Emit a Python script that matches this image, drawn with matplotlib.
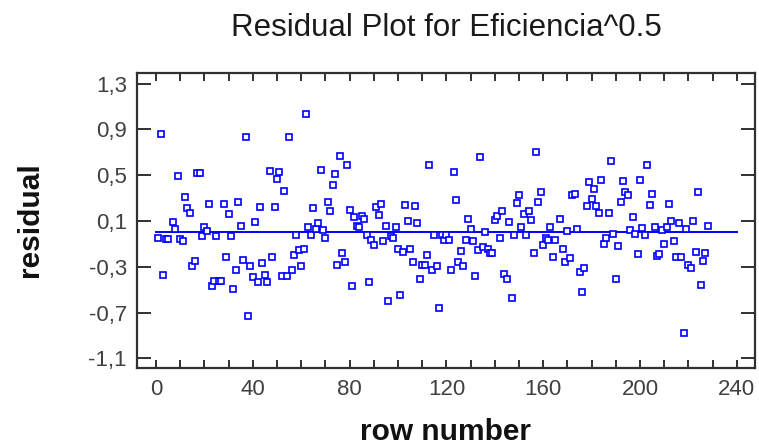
import matplotlib.pyplot as plt
import matplotlib.ticker as mticker

plt.rcParams['font.family'] = ['Liberation Sans', 'DejaVu Sans']

# row numbers and residuals
row = [1, 2, 3, 4, 5, 7, 8, 9, 10, 11, 12, 13, 14, 15, 16, 17, 18, 19, 20, 21,
       22, 23, 24, 25, 26, 27, 28, 29, 30, 31, 32, 33, 34, 35, 36, 37, 38, 39, 40, 41,
       42, 43, 44, 45, 46, 47, 48, 49, 50, 51, 52, 53, 54, 55, 56, 57, 58, 59, 60, 61,
       62, 63, 64, 65, 66, 67, 68, 69, 70, 71, 72, 73, 74, 75, 76, 77, 78, 79, 80, 81,
       82, 83, 84, 85, 86, 87, 88, 89, 90, 91, 92, 93, 94, 95, 96, 97, 98, 99, 100, 101,
       102, 103, 104, 105, 106, 107, 108, 109, 110, 111, 112, 113, 114, 115, 116, 117, 118, 119, 120, 121,
       122, 123, 124, 125, 126, 127, 128, 129, 130, 131, 132, 133, 134, 135, 136, 137, 138, 139, 140, 141,
       142, 143, 144, 145, 146, 147, 148, 149, 150, 151, 152, 153, 154, 155, 156, 157, 158, 159, 160, 161,
       162, 163, 164, 165, 167, 168, 169, 170, 171, 172, 173, 174, 175, 176, 177, 178, 179, 180, 181, 182,
       183, 184, 185, 186, 187, 188, 189, 190, 191, 192, 193, 194, 195, 196, 197, 198, 199, 200, 201, 202,
       203, 204, 205, 206, 207, 208, 209, 210, 211, 212, 213, 214, 215, 216, 217, 218, 219, 220, 221, 222,
       223, 224, 225, 226, 227, 228]

residual = [-0.045, 0.856, -0.37, -0.06, -0.06, 0.094, 0.033, 0.49, -0.054, -0.077,
            0.31, 0.21, 0.17, -0.29, -0.246, 0.52, 0.52, -0.03, 0.05, 0.01,
            0.25, -0.47, -0.42, -0.03, -0.42, -0.42, 0.245, -0.21, 0.164, -0.03,
            -0.496, -0.33, 0.27, 0.06, -0.24, 0.83, -0.73, -0.29, -0.39, 0.09,
            -0.43, 0.22, -0.27, -0.37, -0.43, 0.54, -0.21, 0.22, 0.47, 0.53,
            -0.38, 0.36, -0.38, 0.83, -0.33, -0.2, -0.025, -0.156, -0.29, -0.147,
            1.036, 0.045, -0.025, 0.216, 0.027, 0.085, 0.545, 0.024, -0.045, 0.27,
            0.187, 0.417, 0.51, -0.28, 0.67, -0.18, -0.26, 0.585, 0.193, -0.47,
            0.138, 0.053, 0.05, 0.146, 0.117, -0.025, -0.435, -0.07, -0.11, 0.22,
            0.152, 0.245, -0.077, 0.056, -0.6, -0.03, -0.048, 0.05, -0.14, -0.55,
            -0.17, 0.237, 0.1, -0.147, -0.26, 0.228, 0.08, -0.41, -0.28, -0.287,
            -0.2, 0.59, -0.33, -0.025, -0.29, -0.66, -0.025, -0.066, -0.025, -0.066,
            -0.33, 0.53, 0.283, -0.26, -0.165, -0.29, -0.07, 0.117, 0.027, -0.077,
            -0.377, -0.153, 0.655, -0.127, 0.0, -0.147, -0.18, -0.18, 0.109, 0.144,
            -0.048, 0.19, -0.36, -0.41, 0.094, -0.57, -0.025, 0.257, 0.327, 0.05,
            0.158, -0.025, 0.19, 0.106, -0.18, 0.7, 0.27, 0.35, -0.11, -0.048,
            -0.07, 0.05, -0.217, -0.07, 0.117, -0.14, -0.26, 0.01, -0.22, 0.33,
            0.333, 0.033, -0.348, -0.52, -0.307, 0.234, 0.437, 0.29, 0.38, 0.228,
            0.17, 0.455, -0.1, -0.05, 0.173, 0.62, -0.017, -0.41, -0.118, 0.266,
            0.45, 0.356, 0.327, 0.02, 0.138, -0.015, -0.185, 0.46, 0.036, -0.025,
            0.59, 0.237, 0.335, 0.045, -0.205, -0.185, 0.024, -0.1, 0.045, 0.245,
            0.097, -0.077, -0.217, 0.085, -0.217, -0.88, 0.027, -0.284, -0.313, 0.1,
            -0.167, 0.356, -0.46, -0.25, -0.18, 0.056]

yticks = [-1.1, -0.7, -0.3, 0.1, 0.5, 0.9, 1.3]
ytick_labels = [f'{v:.1f}'.replace('.', ',') for v in yticks]

fig = plt.figure(figsize=(7.59, 4.44), dpi=100)
ax = fig.add_axes([0.180, 0.172, 0.815, 0.663])

ax.plot(row, residual, 's', ms=4.3, mfc='white', mec='#0000ff', mew=1.2, zorder=3)
ax.plot([0, 240], [0, 0], color='#0000ff', lw=1.4, zorder=2)

ax.set_xlim(-8, 247.6)
ax.set_ylim(-1.18, 1.39)

ax.xaxis.set_major_locator(mticker.MultipleLocator(40))
ax.xaxis.set_minor_locator(mticker.MultipleLocator(10))
ax.set_yticks(yticks)
ax.set_yticklabels(ytick_labels)

ax.tick_params(axis='x', which='both', direction='in', length=6, width=1.4,
               top=True, bottom=True, color='#303030')
ax.tick_params(axis='x', which='major', labelsize=16, labelcolor='#404040', pad=8)
ax.tick_params(axis='y', direction='in', length=10, width=1.4, left=True, right=True,
               color='#303030', labelsize=16, labelcolor='#404040', pad=7)

for s in ax.spines.values():
    s.set_linewidth(1.6)
    s.set_color('#303030')

fig.text(446 / 759, 1 - 36 / 444, 'Residual Plot for Eficiencia^0.5',
         ha='center', va='baseline', fontsize=22.5, color='#1a1a1a')
fig.text(446 / 759, 1 - 439.5 / 444, 'row number', ha='center', va='baseline',
         fontsize=21.5, fontweight='bold', color='#111111')
fig.text(38 / 759, 1 - 220 / 444, 'residual', ha='center', va='baseline',
         rotation=90, rotation_mode='anchor', fontsize=21.5, fontweight='bold',
         color='#111111')

fig.savefig('out.png', dpi=100)
